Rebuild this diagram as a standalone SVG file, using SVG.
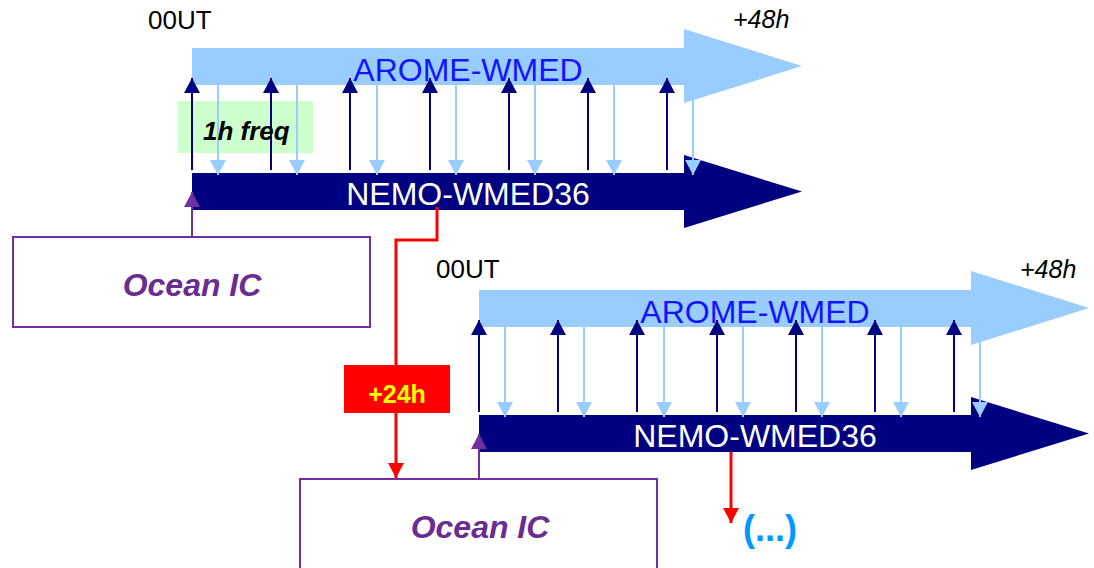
<svg xmlns="http://www.w3.org/2000/svg" width="1094" height="568" viewBox="0 0 1094 568">
<style>
text{font-family:"Liberation Sans",Arial,sans-serif}
.arome{fill:#99CCFF}
.nemo{fill:#000080}
.lblA{font-size:32px;fill:#1414FF;text-anchor:middle}
.lblN{font-size:32px;fill:#FFFFFF;text-anchor:middle}
.up{stroke:#000080;stroke-width:2;marker-end:url(#hUp)}
.dn{stroke:#99CCFF;stroke-width:2;marker-end:url(#hDn)}
.pu{stroke:#7030A0;stroke-width:2;marker-end:url(#hPu)}
.red{stroke:#FF0000;stroke-width:3;fill:none;marker-end:url(#hRed)}
.ic{fill:#FFFFFF;stroke:#7030A0;stroke-width:2}
.icT{font-size:32px;font-weight:bold;font-style:italic;fill:#6B2C91;text-anchor:middle}
.t{font-size:26px;fill:#000}
.ti{font-size:25px;font-style:italic;fill:#000}
</style>
<defs>
<marker id="hUp" markerUnits="userSpaceOnUse" markerWidth="16" markerHeight="16" refX="15" refY="8" orient="auto"><path d="M0,0 L15,8 L0,16 Z" fill="#000080"/></marker>
<marker id="hDn" markerUnits="userSpaceOnUse" markerWidth="16" markerHeight="16" refX="15" refY="8" orient="auto"><path d="M0,0 L15,8 L0,16 Z" fill="#99CCFF"/></marker>
<marker id="hPu" markerUnits="userSpaceOnUse" markerWidth="16" markerHeight="16" refX="15" refY="8" orient="auto"><path d="M0,0 L15,8 L0,16 Z" fill="#7030A0"/></marker>
<marker id="hRed" markerUnits="userSpaceOnUse" markerWidth="16" markerHeight="16" refX="15" refY="8" orient="auto"><path d="M0,0 L15,8 L0,16 Z" fill="#FF0000"/></marker>
</defs>
<rect width="1094" height="568" fill="#FFFFFF"/>

<g id="time-labels">
<text class="t" x="148" y="29">00UT</text>
<text class="ti" x="733" y="28">+48h</text>
<text class="t" x="436" y="278">00UT</text>
<text class="ti" x="1020" y="278">+48h</text>
</g>

<g id="arome1">
<path class="arome" d="M192,48 H684 V29 L802,66 L684,103 V85 H192 Z"/>
<text class="lblA" x="468" y="81">AROME-WMED</text>
</g>
<g id="nemo1">
<path class="nemo" d="M192,173 H684 V155 L802,191.5 L684,228 V210 H192 Z"/>
<text class="lblN" x="468" y="205">NEMO-WMED36</text>
</g>
<g id="freq-box">
<rect x="178" y="101" width="135" height="52" fill="#CCFFCC"/>
</g>

<g id="arome2">
<path class="arome" d="M479,290 H971 V271 L1089,308 L971,345 V327 H479 Z"/>
<text class="lblA" x="755" y="323">AROME-WMED</text>
</g>
<g id="nemo2">
<path class="nemo" d="M479,415 H971 V397 L1089,433.5 L971,470 V452 H479 Z"/>
<text class="lblN" x="755" y="447">NEMO-WMED36</text>
</g>

<g id="oceanic1">
<rect class="ic" x="13" y="237" width="357" height="90"/>
<text class="icT" x="192" y="296">Ocean IC</text>
</g>
<g id="oceanic2">
<rect class="ic" x="300" y="479" width="357" height="95"/>
<text class="icT" x="480" y="538">Ocean IC</text>
</g>

<g id="connectors">
<line class="up" x1="192" y1="170" x2="192" y2="78"/>
<line class="up" x1="271" y1="170" x2="271" y2="78"/>
<line class="up" x1="350" y1="170" x2="350" y2="78"/>
<line class="up" x1="430" y1="170" x2="430" y2="78"/>
<line class="up" x1="509" y1="170" x2="509" y2="78"/>
<line class="up" x1="588" y1="170" x2="588" y2="78"/>
<line class="up" x1="667" y1="170" x2="667" y2="78"/>
<line class="dn" x1="218" y1="85" x2="218" y2="175"/>
<line class="dn" x1="297" y1="85" x2="297" y2="175"/>
<line class="dn" x1="377" y1="85" x2="377" y2="175"/>
<line class="dn" x1="456" y1="85" x2="456" y2="175"/>
<line class="dn" x1="535" y1="85" x2="535" y2="175"/>
<line class="dn" x1="614" y1="85" x2="614" y2="175"/>
<line class="dn" x1="693" y1="85" x2="693" y2="175"/>

<line class="up" x1="479" y1="412" x2="479" y2="320"/>
<line class="up" x1="558" y1="412" x2="558" y2="320"/>
<line class="up" x1="637" y1="412" x2="637" y2="320"/>
<line class="up" x1="717" y1="412" x2="717" y2="320"/>
<line class="up" x1="796" y1="412" x2="796" y2="320"/>
<line class="up" x1="875" y1="412" x2="875" y2="320"/>
<line class="up" x1="954" y1="412" x2="954" y2="320"/>
<line class="dn" x1="505" y1="327" x2="505" y2="417"/>
<line class="dn" x1="584" y1="327" x2="584" y2="417"/>
<line class="dn" x1="664" y1="327" x2="664" y2="417"/>
<line class="dn" x1="743" y1="327" x2="743" y2="417"/>
<line class="dn" x1="822" y1="327" x2="822" y2="417"/>
<line class="dn" x1="901" y1="327" x2="901" y2="417"/>
<line class="dn" x1="980" y1="327" x2="980" y2="417"/>

<line class="pu" x1="192" y1="237" x2="192" y2="192"/>
<line class="pu" x1="479" y1="479" x2="479" y2="434"/>

<path class="red" d="M437,207 V240 H396 V478"/>
<line class="red" x1="731" y1="452" x2="731" y2="523"/>
</g>

<g id="freq-label">
<text x="203" y="140" font-size="26" font-weight="bold" font-style="italic" fill="#000">1h freq</text>
</g>

<g id="plus24">
<rect x="344" y="365" width="106" height="48" fill="#FF0000"/>
<text x="397" y="403" font-size="25" font-weight="bold" fill="#FFFF00" text-anchor="middle">+24h</text>
</g>

<g id="continue">
<text x="743" y="541" font-size="36" font-weight="bold" fill="#0099FF">(...)</text>
</g>
</svg>
